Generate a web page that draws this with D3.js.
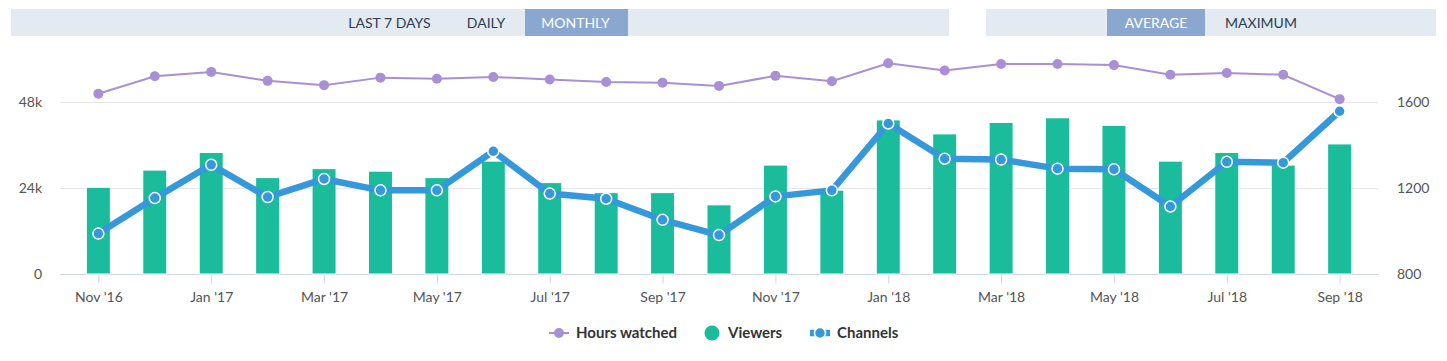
<!DOCTYPE html>
<html>
<head>
<meta charset="utf-8">
<script src="https://cdn.jsdelivr.net/npm/d3@7"></script>
<style>
  body { margin: 0; background: #fff; font-family: Lato, "Open Sans", sans-serif; }
</style>
</head>
<body>
<div id="container"></div>
<script>
const width = 1447;
const height = 361;

//------------------DATA------------------//
const months = ["Nov '16", "Dec '16", "Jan '17", "Feb '17", "Mar '17", "Apr '17", "May '17", "Jun '17",
  "Jul '17", "Aug '17", "Sep '17", "Oct '17", "Nov '17", "Dec '17", "Jan '18", "Feb '18",
  "Mar '18", "Apr '18", "May '18", "Jun '18", "Jul '18", "Aug '18", "Sep '18"];
const viewers = [24200, 29000, 33900, 26900, 29400, 28700, 26900, 31500,
  25500, 22700, 22700, 19300, 30400, 23400, 43000, 39100,
  42300, 43600, 41500, 31500, 33900, 30400, 36300];
const channels = [988, 1153, 1308, 1158, 1242, 1189, 1189, 1371,
  1174, 1150, 1052, 981, 1161, 1189, 1500, 1336,
  1332, 1290, 1287, 1114, 1322, 1318, 1557];
const hoursWatched = [50300, 55200, 56400, 53900, 52700, 54800, 54500, 55000,
  54300, 53600, 53400, 52500, 55300, 53800, 58800, 56800,
  58600, 58600, 58300, 55600, 56100, 55600, 48800];
const leftTicks = [0, 24000, 48000];
const rightTicks = [800, 1200, 1600];
const xTickLabels = ["Nov '16", "Jan '17", "Mar '17", "May '17", "Jul '17", "Sep '17",
  "Nov '17", "Jan '18", "Mar '18", "May '18", "Jul '18", "Sep '18"];
const periodButtons = ["LAST 7 DAYS", "DAILY", "MONTHLY"];
const modeButtons = ["AVERAGE", "MAXIMUM"];
const legendNames = ["Hours watched", "Viewers", "Channels"];

const colors = { hours: "#a98fd5", viewers: "#1abc9c", channels: "#3498db" };

//------------------SVG------------------//
const svg = d3.select("#container").append("svg")
  .attr("width", width)
  .attr("height", height)
  .style("font-family", "Lato, 'Open Sans', sans-serif");

//------------------BUTTONS------------------//
const barBg = "#e3eaf2", barOn = "#8aa8cf", btnText = "#2c3e50";
svg.append("rect").attr("x", 11).attr("y", 9).attr("width", 938).attr("height", 27).attr("fill", barBg);
svg.append("rect").attr("x", 986).attr("y", 9).attr("width", 450).attr("height", 27).attr("fill", barBg);

const periodX = [{ x0: 330, x1: 449 }, { x0: 449, x1: 525 }, { x0: 525, x1: 628 }];
periodButtons.forEach(function(b, i) {
  const on = b === "MONTHLY";
  if (on) svg.append("rect").attr("x", periodX[i].x0).attr("y", 9)
    .attr("width", periodX[i].x1 - periodX[i].x0).attr("height", 27).attr("fill", barOn);
  svg.append("text")
    .attr("x", (periodX[i].x0 + periodX[i].x1) / 2 + (i === 0 ? 0 : -1))
    .attr("y", 27.5)
    .attr("text-anchor", "middle")
    .style("font-size", "14px")
    .style("fill", on ? "#fff" : btnText)
    .text(b);
});
const modeX = [{ x0: 1107, x1: 1205 }, { x0: 1205, x1: 1317 }];
modeButtons.forEach(function(b, i) {
  const on = b === "AVERAGE";
  if (on) svg.append("rect").attr("x", modeX[i].x0).attr("y", 9)
    .attr("width", modeX[i].x1 - modeX[i].x0).attr("height", 27).attr("fill", barOn);
  svg.append("text")
    .attr("x", (modeX[i].x0 + modeX[i].x1) / 2)
    .attr("y", 27.5)
    .attr("text-anchor", "middle")
    .style("font-size", "14px")
    .style("fill", on ? "#fff" : btnText)
    .text(b);
});

//------------------SCALES------------------//
const plotLeft = 60, plotRight = 1378, plotBottom = 274, plotTop = 16;
const x = d3.scalePoint().domain(months).range([plotLeft, plotRight]).padding(0.68);
const yLeft = d3.scaleLinear().domain([0, 72000]).range([plotBottom, plotTop]);
const yRight = d3.scaleLinear().domain([800, 2000]).range([plotBottom, plotTop]);

//------------------GRID------------------//
svg.append("g")
  .selectAll("line")
  .data(leftTicks.slice(1))
  .enter()
  .append("line")
  .attr("x1", plotLeft).attr("x2", plotRight)
  .attr("y1", function(d) { return Math.round(yLeft(d)) + 0.5; })
  .attr("y2", function(d) { return Math.round(yLeft(d)) + 0.5; })
  .style("stroke", "#e6e6e6");

//------------------AXES------------------//
const xaxis = d3.axisBottom(x)
  .tickValues(xTickLabels)
  .tickSize(9)
  .tickSizeOuter(0);
const gx = svg.append("g")
  .attr("transform", "translate(0," + (plotBottom + 0.5) + ")")
  .call(xaxis);
gx.select(".domain").attr("stroke", "#ccd6eb").attr("d", "M" + plotLeft + ",0H" + plotRight);
gx.selectAll(".tick line").attr("stroke", "#ccd6eb");
gx.selectAll(".tick text")
  .attr("y", 18)
  .attr("dy", "0.71em")
  .style("font-size", "14px")
  .style("font-family", "Lato, 'Open Sans', sans-serif")
  .style("fill", "#555");

const yaxis = d3.axisLeft(yLeft)
  .tickValues(leftTicks)
  .tickSize(0)
  .tickFormat(function(d) { return d === 0 ? "0" : (d / 1000) + "k"; });
const gy = svg.append("g")
  .attr("transform", "translate(42,0)")
  .call(yaxis);
gy.select(".domain").remove();
gy.selectAll(".tick text")
  .attr("x", 0)
  .style("font-size", "14px")
  .style("font-family", "Lato, 'Open Sans', sans-serif")
  .style("fill", "#555");

const yaxisR = d3.axisRight(yRight)
  .tickValues(rightTicks)
  .tickSize(0)
  .tickFormat(d3.format("d"));
const gyr = svg.append("g")
  .attr("transform", "translate(1397,0)")
  .call(yaxisR);
gyr.select(".domain").remove();
gyr.selectAll(".tick text")
  .attr("x", 0)
  .style("font-size", "14px")
  .style("font-family", "Lato, 'Open Sans', sans-serif")
  .style("fill", "#555");

//------------------BARS------------------//
const barW = 24;
svg.append("g")
  .selectAll("rect")
  .data(viewers)
  .enter()
  .append("rect")
  .attr("x", function(d, i) { return x(months[i]) - barW / 2; })
  .attr("y", function(d) { return yLeft(d); })
  .attr("width", barW)
  .attr("height", function(d) { return plotBottom - yLeft(d); })
  .style("fill", colors.viewers)
  .style("stroke", "#fff")
  .style("stroke-width", 1);

//------------------LINES------------------//
const hoursLine = d3.line()
  .x(function(d, i) { return x(months[i]); })
  .y(function(d) { return yLeft(d); });
svg.append("path")
  .attr("d", hoursLine(hoursWatched))
  .style("fill", "none")
  .style("stroke", colors.hours)
  .style("stroke-width", 2);
svg.append("g")
  .selectAll("circle")
  .data(hoursWatched)
  .enter()
  .append("circle")
  .attr("cx", function(d, i) { return x(months[i]); })
  .attr("cy", function(d) { return yLeft(d); })
  .attr("r", 5)
  .style("fill", colors.hours);

const channelsLine = d3.line()
  .x(function(d, i) { return x(months[i]); })
  .y(function(d) { return yRight(d); });
svg.append("path")
  .attr("d", channelsLine(channels))
  .style("fill", "none")
  .style("stroke", colors.channels)
  .style("stroke-width", 6.5)
  .style("stroke-linejoin", "round");
svg.append("g")
  .selectAll("circle")
  .data(channels)
  .enter()
  .append("circle")
  .attr("cx", function(d, i) { return x(months[i]); })
  .attr("cy", function(d) { return yRight(d); })
  .attr("r", 5.5)
  .style("fill", colors.channels)
  .style("stroke", "#fff")
  .style("stroke-width", 1.5);

//------------------LEGEND------------------//
const ly = 333;
const legend = svg.append("g");
// hours watched
legend.append("line").attr("x1", 549).attr("x2", 569).attr("y1", ly).attr("y2", ly)
  .style("stroke", colors.hours).style("stroke-width", 2);
legend.append("circle").attr("cx", 559).attr("cy", ly).attr("r", 5).style("fill", colors.hours);
// viewers
legend.append("circle").attr("cx", 712).attr("cy", ly).attr("r", 7.5).style("fill", colors.viewers);
// channels
legend.append("line").attr("x1", 810).attr("x2", 830).attr("y1", ly).attr("y2", ly)
  .style("stroke", colors.channels).style("stroke-width", 6.5);
legend.append("circle").attr("cx", 820).attr("cy", ly).attr("r", 5.5)
  .style("fill", colors.channels).style("stroke", "#fff").style("stroke-width", 1.5);

const legendX = [576, 728, 837];
legend.selectAll("text")
  .data(legendNames)
  .enter()
  .append("text")
  .attr("x", function(d, i) { return legendX[i]; })
  .attr("y", ly + 5)
  .style("font-size", "15px")
  .style("font-weight", "bold")
  .style("fill", "#333")
  .text(function(d) { return d; });
</script>
</body>
</html>
